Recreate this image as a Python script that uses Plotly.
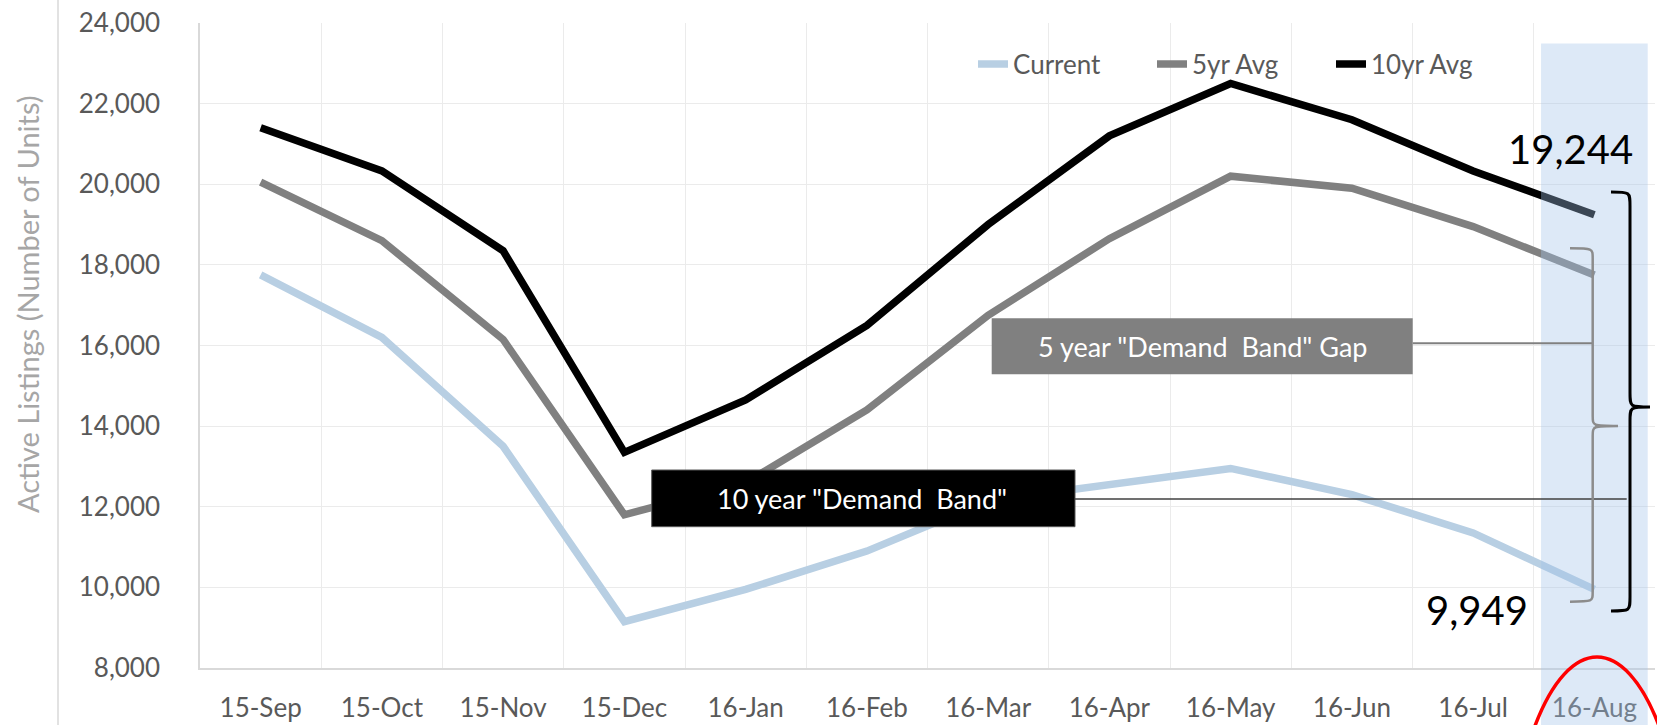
import plotly.graph_objects as go

# ---------------- data ----------------
months = ["15-Sep", "15-Oct", "15-Nov", "15-Dec", "16-Jan", "16-Feb",
          "16-Mar", "16-Apr", "16-May", "16-Jun", "16-Jul", "16-Aug"]
current = [17750, 16200, 13500, 9150, 9950, 10900, 12150, 12550, 12950, 12300, 11350, 9949]
avg_5yr = [20050, 18600, 16150, 11800, 12600, 14400, 16750, 18650, 20200, 19900, 18950, 17750]
avg_10yr = [21400, 20330, 18350, 13350, 14650, 16500, 19000, 21200, 22500, 21600, 20330, 19244]
series_names = ["Current", "5yr Avg", "10yr Avg"]
y_ticks = list(range(8000, 24001, 2000))

# ---------------- geometry helpers (pixel -> paper) ----------------
W, H = 1657, 725
L, R, T, B = 200, 2, 23, 57
PW, PH = W - L - R, H - T - B


def px(x):
    return (x - L) / PW


def py(y):
    return (H - B - y) / PH


FONT = "Lato"
TICK_COLOR = "#595959"

fig = go.Figure()
colors = ["#B8CFE3", "#808080", "#000000"]
for name, vals, col in zip(series_names, [current, avg_5yr, avg_10yr], colors):
    fig.add_trace(go.Scatter(x=months, y=vals, name=name, mode="lines",
                             line=dict(color=col, width=7.5)))


def brace(x_tip, x_line, x_point, y_top, y_mid, y_bot, r=12):
    pts = [
        f"M{px(x_tip)},{py(y_top)}",
        f"C{px(x_line)},{py(y_top)} {px(x_line)},{py(y_top)} {px(x_line)},{py(y_top + r)}",
        f"L{px(x_line)},{py(y_mid - r)}",
        f"C{px(x_line)},{py(y_mid)} {px(x_line)},{py(y_mid)} {px(x_point)},{py(y_mid)}",
        f"C{px(x_line)},{py(y_mid)} {px(x_line)},{py(y_mid)} {px(x_line)},{py(y_mid + r)}",
        f"L{px(x_line)},{py(y_bot - r)}",
        f"C{px(x_line)},{py(y_bot)} {px(x_line)},{py(y_bot)} {px(x_tip)},{py(y_bot)}",
    ]
    return " ".join(pts)


shapes = [
    # highlighted last-month band
    dict(type="rect", xref="x", yref="paper", x0=11 - 0.44, x1=11 + 0.44,
         y0=py(H + 5), y1=py(43.5), fillcolor="rgba(160,195,232,0.36)",
         line=dict(width=0), layer="above"),
    # chart-area left border line
    dict(type="line", xref="paper", yref="paper", x0=px(58), x1=px(58),
         y0=py(0), y1=py(H), line=dict(color="#D9D9D9", width=1.5), layer="above"),
    # 5 year box + connector
    dict(type="rect", xref="paper", yref="paper", x0=px(991.7), x1=px(1412.7),
         y0=py(374.3), y1=py(318.3), fillcolor="#808080", line=dict(width=0), layer="above"),
    dict(type="line", xref="paper", yref="paper", x0=px(1412.7), x1=px(1592.7),
         y0=py(343.3), y1=py(343.3), line=dict(color="#808080", width=2), layer="above"),
    # 10 year box + connector
    dict(type="rect", xref="paper", yref="paper", x0=px(651.7), x1=px(1075),
         y0=py(526.7), y1=py(470), fillcolor="#000000",
         line=dict(color="#595959", width=1), layer="above"),
    dict(type="line", xref="paper", yref="paper", x0=px(1075), x1=px(1626.7),
         y0=py(499), y1=py(499), line=dict(color="#404040", width=1.5), layer="above"),
    # braces
    dict(type="path", xref="paper", yref="paper",
         path=brace(1570, 1592.7, 1618, 248.3, 426, 601.7, 10),
         line=dict(color="#8C8C8C", width=2.5), layer="above"),
    dict(type="path", xref="paper", yref="paper",
         path=brace(1611, 1630, 1650, 192, 407, 611, 14),
         line=dict(color="#000000", width=3), layer="above"),
    # red ellipse around the last month
    dict(type="circle", xref="paper", yref="paper", x0=px(1507), x1=px(1687),
         y0=py(1157), y1=py(657), line=dict(color="#FF0000", width=3.5), layer="above"),
]

annotations = [
    dict(text="Active Listings (Number of Units)", xref="paper", yref="paper",
         x=px(28), y=py(304), textangle=-90, showarrow=False,
         font=dict(family=FONT, size=29, color="#A6A6A6"),
         xanchor="center", yanchor="middle"),
    dict(text="19,244", xref="paper", yref="paper", x=px(1570), y=py(149),
         showarrow=False, font=dict(family=FONT, size=40, color="#000000"),
         xanchor="center", yanchor="middle"),
    dict(text="9,949", xref="paper", yref="paper", x=px(1477), y=py(610),
         showarrow=False, font=dict(family=FONT, size=40, color="#000000"),
         xanchor="center", yanchor="middle"),
    dict(text='5 year "Demand\u00a0 Band" Gap', xref="paper", yref="paper",
         x=px(1202), y=py(346), showarrow=False,
         font=dict(family=FONT, size=27, color="#FFFFFF"),
         xanchor="center", yanchor="middle"),
    dict(text='10 year "Demand\u00a0 Band"', xref="paper", yref="paper",
         x=px(862), y=py(498.3), showarrow=False,
         font=dict(family=FONT, size=27, color="#FFFFFF"),
         xanchor="center", yanchor="middle"),
]

fig.update_layout(
    width=W, height=H,
    margin=dict(l=L, r=R, t=T, b=B, pad=0, autoexpand=False),
    paper_bgcolor="#FFFFFF", plot_bgcolor="#FFFFFF",
    font=dict(family=FONT, size=26, color=TICK_COLOR),
    showlegend=True,
    legend=dict(orientation="h", x=px(973), y=py(64), xanchor="left", yanchor="middle",
                bgcolor="rgba(0,0,0,0)", font=dict(family=FONT, size=26, color=TICK_COLOR),
                entrywidth=134, entrywidthmode="pixels", traceorder="normal"),
    shapes=shapes,
    annotations=annotations,
)
fig.update_xaxes(type="category", range=[-0.5, 11.5], tickson="boundaries",
                 showgrid=True, gridcolor="#EBEBEB", gridwidth=1,
                 showline=True, linecolor="#D9D9D9", linewidth=1.5, ticks="",
                 tickfont=dict(family=FONT, size=26, color=TICK_COLOR),
                 ticklabelstandoff=16, fixedrange=True, automargin=False)
fig.update_yaxes(range=[8000, 24000], tickvals=y_ticks, tickformat=",",
                 showgrid=True, gridcolor="#EBEBEB", gridwidth=1, zeroline=False,
                 showline=True, linecolor="#D9D9D9", linewidth=1.5, ticks="",
                 tickfont=dict(family=FONT, size=26, color=TICK_COLOR),
                 ticklabelstandoff=33, fixedrange=True, automargin=False)

fig.write_html(
    "out.html",
    config={"displayModeBar": False},
    post_script="document.body.style.margin='0px';document.body.style.overflow='hidden';",
)
